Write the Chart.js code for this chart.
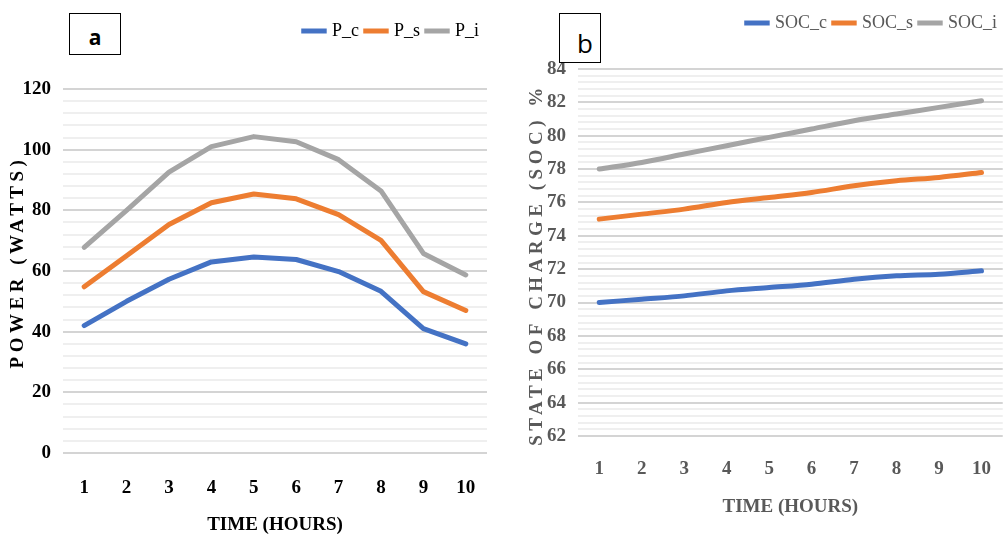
<!DOCTYPE html>
<html lang="en">
<head>
  <meta charset="UTF-8" />
  <title>Power and SOC</title>
  <script src="https://cdn.jsdelivr.net/npm/chart.js"></script>
  <style>
    body { margin: 0; background: #fff; width: 1005px; height: 536px; position: relative; overflow: hidden; }
    .panel { position: absolute; top: 0; width: 500px; height: 536px; }
    .tag { position: absolute; border: 1.5px solid #000; background: #fff; font-family: "Open Sans", sans-serif; color: #000; text-align: center; box-sizing: border-box; z-index: 2; }
    #tagA { left: 69px; top: 13px; width: 52px; height: 42px; font-size: 21px; font-weight: bold; line-height: 46px; }
    #tagB { left: 559px; top: 13px; width: 42px; height: 50px; font-size: 26px; line-height: 58px; padding-left: 10px; }
  </style>
</head>
<body>
  <div class="panel" style="left:0"><canvas id="powerChart" width="500" height="536"></canvas></div>
  <div class="panel" style="left:505px"><canvas id="socChart" width="500" height="536"></canvas></div>
  <div class="tag" id="tagA">a</div>
  <div class="tag" id="tagB">b</div>

  <script>
    const hours = ["1", "2", "3", "4", "5", "6", "7", "8", "9", "10"];

    // panel a - power (watts)
    const pC = [42, 50, 57.3, 63, 64.6, 63.8, 59.8, 53.3, 41, 36];
    const pS = [54.8, 65, 75.3, 82.5, 85.4, 83.8, 78.6, 70.1, 53.2, 47];
    const pI = [67.8, 80, 92.6, 101, 104.3, 102.6, 96.7, 86.4, 65.8, 58.7];

    // panel b - state of charge (%)
    const socC = [70, 70.2, 70.4, 70.7, 70.9, 71.1, 71.4, 71.6, 71.7, 71.9];
    const socS = [75, 75.3, 75.6, 76.0, 76.3, 76.6, 77.0, 77.3, 77.5, 77.8];
    const socI = [78, 78.4, 78.9, 79.4, 79.9, 80.4, 80.9, 81.3, 81.7, 82.1];

    const blue = "#4472C4", orange = "#ED7D31", grey = "#A5A5A5";
    const serif = "'Liberation Serif', 'Times New Roman', serif";

    function ds(label, data, color, tension) {
      return {
        label: label, data: data, borderColor: color, backgroundColor: color,
        borderWidth: 5, pointRadius: 0, borderCapStyle: "round", borderJoinStyle: "round",
        tension: tension
      };
    }

    // leaves a gap under the legend, and draws the spaced-out y title
    const extras = {
      id: "extras",
      beforeInit(chart, args, opts) {
        const fit = chart.legend.fit;
        chart.legend.fit = function () {
          fit.call(this);
          this.height += opts.gap;
        };
      },
      afterDraw(chart, args, opts) {
        const ctx = chart.ctx, a = chart.chartArea;
        ctx.save();
        ctx.translate(opts.x, (a.top + a.bottom) / 2 + opts.shift);
        ctx.rotate(-Math.PI / 2);
        ctx.font = "bold 19px " + serif;
        ctx.letterSpacing = opts.spacing + "px";
        ctx.fillStyle = opts.color;
        ctx.textAlign = "center";
        ctx.textBaseline = "middle";
        ctx.fillText(opts.text, 0, 0);
        ctx.restore();
      }
    };

    function makeChart(id, sets, cfg) {
      return new Chart(document.getElementById(id), {
        type: "line",
        data: { labels: hours, datasets: sets },
        plugins: [extras],
        options: {
          responsive: false,
          animation: false,
          layout: { padding: cfg.padding },
          plugins: {
            tooltip: { enabled: false },
            extras: { gap: cfg.gap, x: cfg.titleX, shift: cfg.shift, text: cfg.yTitle, color: cfg.text, spacing: cfg.spacing },
            legend: {
              align: "end",
              labels: {
                usePointStyle: true, pointStyle: "line", boxWidth: 30, padding: 8,
                color: cfg.text, font: { family: serif, size: 18 }
              }
            }
          },
          scales: {
            x: {
              offset: true,
              grid: { display: false },
              border: { display: false },
              ticks: { color: cfg.text, padding: cfg.xPad, font: { family: serif, size: 19, weight: "bold" } },
              title: { display: true, text: "TIME (HOURS)", color: cfg.text, padding: { top: 4, bottom: 0 }, font: { family: serif, size: 19, weight: "bold" } },
              afterFit: s => { s.height = cfg.xHeight; }
            },
            y: {
              min: cfg.min, max: cfg.max,
              border: { display: false },
              grid: {
                lineWidth: 2,
                color: c => (Math.round(c.tick.value * 10) % Math.round(cfg.major * 10) === 0) ? "#d4d4d4" : "#efefef",
                drawTicks: false
              },
              ticks: {
                stepSize: cfg.minor, autoSkip: false, padding: 12,
                color: cfg.text, font: { family: serif, size: 19, weight: "bold" },
                callback: v => (Math.round(v * 10) % Math.round(cfg.major * 10) === 0) ? Math.round(v) : ""
              },
              title: { display: false },
              afterFit: s => { s.width = cfg.yWidth; }
            }
          }
        }
      });
    }

    makeChart("powerChart", [ds("P_c", pC, blue, 0), ds("P_s", pS, orange, 0), ds("P_i", pI, grey, 0)], {
      padding: { top: 14, right: 13, left: 0, bottom: 0 },
      gap: 39, titleX: 18, shift: -9, spacing: 4.5,
      text: "#000", min: 0, max: 120, minor: 4, major: 20,
      yTitle: "POWER (WATTS)", yWidth: 63, xHeight: 83, xPad: 16
    });

    makeChart("socChart", [ds("SOC_c", socC, blue, 0.3), ds("SOC_s", socS, orange, 0.3), ds("SOC_i", socI, grey, 0.3)], {
      padding: { top: 6, right: 0, left: 0, bottom: 18 },
      gap: 27, titleX: 32, shift: 12, spacing: 4.5,
      text: "#595959", min: 62, max: 84, minor: 0.4, major: 2,
      yTitle: "STATE OF CHARGE (SOC) %", yWidth: 73, xHeight: 82, xPad: 14
    });
  </script>
</body>
</html>
